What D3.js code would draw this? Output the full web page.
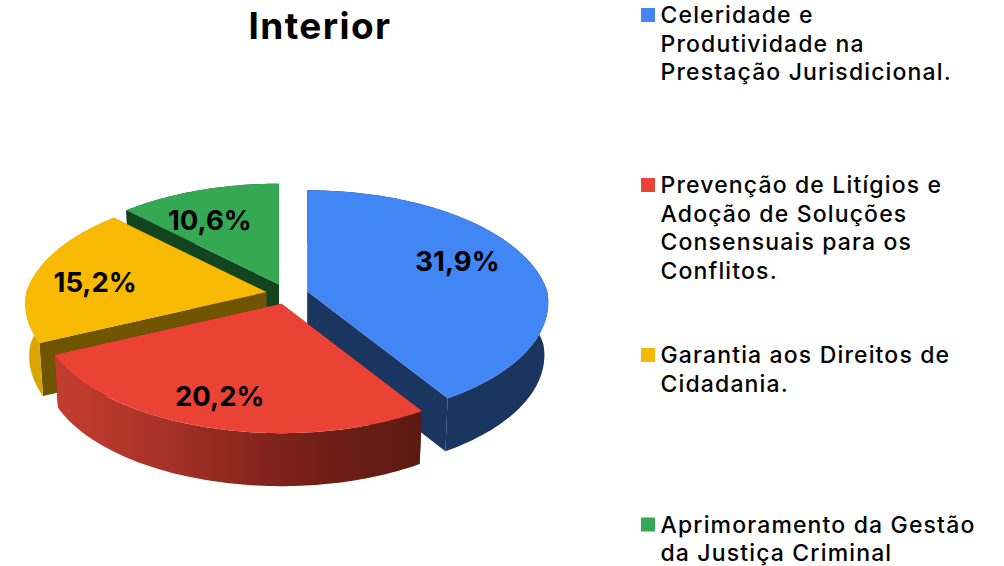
<!DOCTYPE html>
<html>
<head>
<meta charset="utf-8">
<script src="https://cdn.jsdelivr.net/npm/d3@7"></script>
<style>
  html, body { margin: 0; padding: 0; background: #fff; }
  svg { display: block; }
  text { fill: #000; }
</style>
</head>
<body>
<script>
const categories = ["celeridade", "prevencao", "garantia", "aprimoramento"];
const values = [31.9, 20.2, 15.2, 10.6];
const valueLabels = ["31,9%", "20,2%", "15,2%", "10,6%"];
const legendLines = [
  ["Celeridade e", "Produtividade na", "Prestação Jurisdicional."],
  ["Prevenção de Litígios e", "Adoção de Soluções", "Consensuais para os", "Conflitos."],
  ["Garantia aos Direitos de", "Cidadania."],
  ["Aprimoramento da Gestão", "da Justiça Criminal"]
];
const topColors = ["#4285f4", "#ea4335", "#f8b902", "#34a853"];
const cutColors = ["#1a355f", "#5a1a13", "#6f5500", "#134420"];

const width = 1004, height = 566;

// pie geometry
const cx = 287, cy = 294, R = 240, tilt = 0.4875;
const perspBack = 0.16, perspFront = 0.095, lean = 0.09;
const depth = 53, explode = 21, shrink = 0.016;
// label placement per slice: fraction of radius, turn from mid angle in radians
const labelFrac = [0.67, 0.83, 0.71, 0.62];
const labelTurn = [-0.11, 0.065, 0.02, -0.05];
const legendBase = [23, 193, 363, 532.5];
const lineGap = 28.5;

const color = d3.scaleOrdinal().domain(categories).range(topColors);
const cutColor = d3.scaleOrdinal().domain(categories).range(cutColors);

const svg = d3.select("body").append("svg")
    .attr("width", width)
    .attr("height", height);

const defs = svg.append("defs");

// inside the slice group, so x is relative to the red apex
const redGrad = defs.append("linearGradient")
    .attr("id", "wall-prevencao").attr("gradientUnits", "userSpaceOnUse")
    .attr("x1", -229).attr("x2", 137).attr("y1", 0).attr("y2", 0);
redGrad.selectAll("stop")
  .data([[0, "#c63d30"], [0.3, "#a83228"], [0.65, "#7a2119"], [1, "#5a1a13"]])
  .join("stop")
    .attr("offset", d => d[0])
    .attr("stop-color", d => d[1]);

const wallFill = k => k === "prevencao" ? "url(#wall-prevencao)"
  : k === "garantia" ? "#d9a503" : cutColor(k);

const pie = d3.pie().sort(null).value(d => d.value);
const slices = pie(categories.map((key, i) => ({key, value: values[i], label: valueLabels[i], i})));

const leaned = a => a + lean * Math.max(0, -Math.sin(a));

// angle clockwise from top, r in pie units, z 0 = top face, 1 = bottom face
function project(a, r, z) {
  const b = leaned(a);
  const c = Math.cos(b);
  const p = 1 / (1 + (c > 0 ? perspBack : perspFront) * c);
  const s = 1 - shrink * z;
  return [
    R * r * Math.sin(b) * p * s,
    -R * tilt * r * c * p + depth * z
  ];
}

const line = d3.line();

function arcPoints(a0, a1, r, z) {
  const n = Math.ceil((a1 - a0) / 0.02);
  return d3.range(n + 1).map(i => project(a0 + (a1 - a0) * i / n, r, z));
}

function topPath(d) {
  return line([[0, 0], ...arcPoints(d.startAngle, d.endAngle, 1, 0)]) + "Z";
}
function wallPath(d) {
  return line([
    ...arcPoints(d.startAngle, d.endAngle, 1, 0),
    ...arcPoints(d.startAngle, d.endAngle, 1, 1).reverse()
  ]) + "Z";
}
function cutPath(a) {
  return line([[0, 0], project(a, 1, 0), project(a, 1, 1), [0, depth]]) + "Z";
}

// back to front
const order = [3, 2, 0, 1];

const g = svg.append("g")
  .selectAll("g")
  .data(order.map(i => slices[i]))
  .join("g")
    .attr("transform", d => {
      const mid = leaned((d.startAngle + d.endAngle) / 2);
      const x = cx + explode * Math.sin(mid);
      const y = cy - explode * tilt * Math.cos(mid);
      return `translate(${x},${y})`;
    });

g.append("path")
    .attr("d", d => cutPath(d.startAngle))
    .attr("fill", d => cutColor(d.data.key));
g.append("path")
    .attr("d", d => cutPath(d.endAngle))
    .attr("fill", d => cutColor(d.data.key));
g.append("path")
    .attr("d", wallPath)
    .attr("fill", d => wallFill(d.data.key));
g.append("path")
    .attr("d", topPath)
    .attr("fill", d => color(d.data.key));

g.append("text")
    .attr("transform", d => {
      const a = (d.startAngle + d.endAngle) / 2 + labelTurn[d.data.i];
      const f = labelFrac[d.data.i];
      return `translate(${243 * f * Math.sin(a)},${-117 * f * Math.cos(a)})`;
    })
    .attr("text-anchor", "middle")
    .attr("dy", "0.36em")
    .style("font", "700 27.5px Inter, sans-serif")
    .text(d => d.data.label);

svg.append("text")
    .attr("x", 320)
    .attr("y", 38.5)
    .attr("text-anchor", "middle")
    .style("font", "700 37px Inter, sans-serif")
    .style("letter-spacing", "1.4px")
    .text("Interior");

const legend = svg.append("g")
  .selectAll("g")
  .data(categories)
  .join("g")
    .attr("transform", (d, i) => `translate(641,${legendBase[i]})`);

legend.append("rect")
    .attr("y", -15)
    .attr("width", 14)
    .attr("height", 14)
    .attr("fill", d => color(d));

legend.append("text")
    .style("font", "500 23px Inter, sans-serif")
    .style("letter-spacing", "1.15px")
    .selectAll("tspan")
    .data((d, i) => legendLines[i])
    .join("tspan")
    .attr("x", 19.5)
    .attr("y", (d, i) => i * lineGap)
    .text(d => d);
</script>
</body>
</html>
